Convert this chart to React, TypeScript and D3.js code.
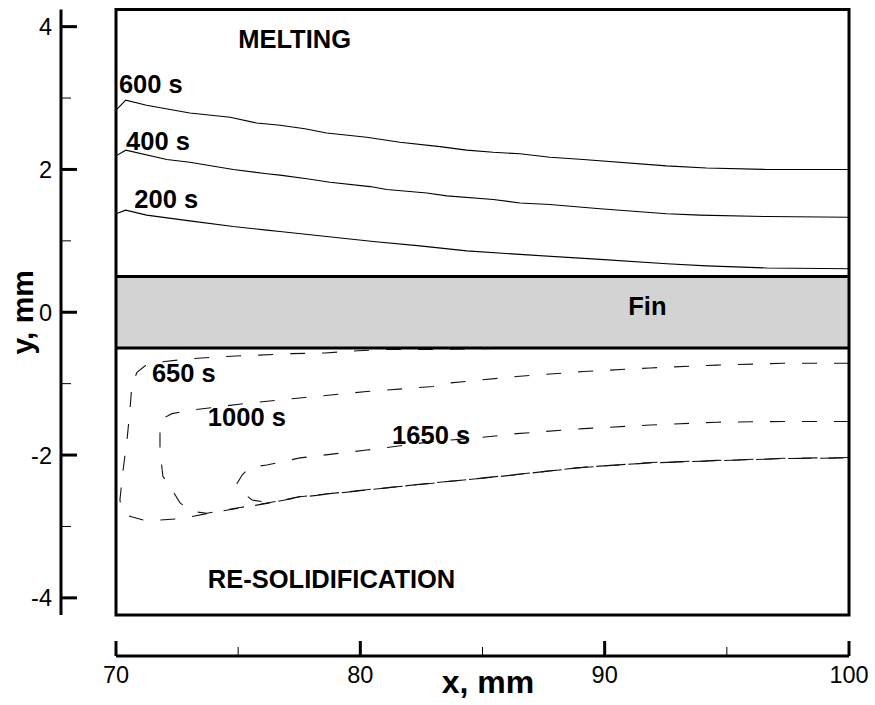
import React from 'react';
import * as d3 from 'd3';

// Axis ticks (mm)
const xTicks = [70, 80, 90, 100];
const xMinorTicks = [75, 85, 95];
const yTicks = [-4, -2, 0, 2, 4];
const yMinorTicks = [-3, -1, 1, 3];

// Fin half-thickness bounds (mm)
const finBounds = [-0.5, 0.5];

// Melting front positions above the fin, [x mm, y mm]
const melt200: [number, number][] = [
  [70, 1.38], [70.4, 1.43], [71.25, 1.36], [73.02, 1.28], [74.8, 1.2], [76.17, 1.15],
  [76.71, 1.13], [78.62, 1.06], [80.53, 0.99], [82.44, 0.93], [84.35, 0.86], [86.53, 0.81],
  [89.81, 0.74], [92.54, 0.68], [94.17, 0.65], [96.63, 0.62], [100, 0.61],
];
const melt400: [number, number][] = [
  [70, 2.19], [70.4, 2.27], [72.08, 2.14], [73.02, 2.1], [74.8, 2.0], [76.17, 1.94],
  [76.71, 1.92], [77.81, 1.87], [78.76, 1.82], [80.4, 1.76], [81.08, 1.72], [82.72, 1.67],
  [83.54, 1.63], [85.44, 1.58], [86.53, 1.53], [87.76, 1.51], [89.81, 1.45], [92.54, 1.38],
  [93.9, 1.36], [96.63, 1.34], [100, 1.33],
];
const melt600: [number, number][] = [
  [70, 2.83], [70.4, 2.97], [71.25, 2.9], [73.02, 2.79], [74.67, 2.73], [75.76, 2.65],
  [76.71, 2.62], [77.73, 2.57], [78.62, 2.51], [80.26, 2.45], [81.62, 2.38], [83.26, 2.32],
  [84.35, 2.27], [85.44, 2.24], [86.53, 2.22], [87.76, 2.17], [89.12, 2.14], [92.53, 2.05],
  [94.17, 2.02], [96.63, 2.0], [100, 2.0],
];

// Re-solidification fronts below the fin, [x mm, y mm]
const solid650: [number, number][] = [
  [100, -0.5], [93.9, -0.5], [87.76, -0.5], [85.72, -0.505], [82.97, -0.52], [80.93, -0.52],
  [79.9, -0.54], [78.55, -0.57], [77.2, -0.58], [75.81, -0.6], [74.46, -0.62], [73.07, -0.65],
  [71.72, -0.7], [71.19, -0.75], [70.86, -0.84], [70.65, -1.02], [70.57, -1.37], [70.45, -1.79],
  [70.29, -2.21], [70.16, -2.63], [70.25, -2.77], [70.49, -2.85], [71.11, -2.91], [71.8, -2.91],
  [72.7, -2.89], [73.72, -2.82], [75.08, -2.74], [76.3, -2.67], [77.53, -2.58], [80.26, -2.49],
  [82.97, -2.39], [85.72, -2.3], [89.11, -2.17], [91.86, -2.11], [94.59, -2.08], [97.31, -2.05],
  [100, -2.04],
];
const solid1000: [number, number][] = [
  [100, -0.715], [97.31, -0.715], [94.59, -0.74], [91.86, -0.78], [89.13, -0.83], [86.4, -0.9],
  [83.67, -0.99], [82.98, -1.04], [80.26, -1.11], [77.53, -1.2], [75.48, -1.27], [73.1, -1.37],
  [72.29, -1.42], [71.96, -1.48], [71.8, -1.65], [71.8, -1.93], [71.92, -2.3], [72.21, -2.44],
  [72.62, -2.67], [73.11, -2.79], [73.72, -2.815], [75.08, -2.735], [76.3, -2.665], [77.53, -2.585],
  [80.26, -2.485], [82.97, -2.395], [85.72, -2.295], [89.11, -2.175], [91.86, -2.105],
  [94.59, -2.075], [97.31, -2.045], [100, -2.035],
];
const solid1650: [number, number][] = [
  [100, -1.53], [97.31, -1.53], [94.59, -1.54], [91.86, -1.58], [89.13, -1.63], [86.4, -1.7],
  [84.76, -1.76], [82.99, -1.81], [80.26, -1.93], [77.53, -2.04], [76.17, -2.14], [75.48, -2.17],
  [75.16, -2.28], [74.95, -2.4], [75.2, -2.53], [75.57, -2.63], [76.3, -2.67], [77.53, -2.59],
  [80.26, -2.49], [82.97, -2.39], [85.72, -2.3], [89.11, -2.17], [91.86, -2.11], [94.59, -2.08],
  [97.31, -2.05], [100, -2.04],
];

// Curve labels: text and anchor position in mm
const curveLabels: { text: string; x: number; y: number }[] = [
  { text: '600 s', x: 70.12, y: 3.07 },
  { text: '400 s', x: 70.41, y: 2.27 },
  { text: '200 s', x: 70.75, y: 1.46 },
  { text: '650 s', x: 71.47, y: -0.98 },
  { text: '1000 s', x: 73.76, y: -1.6 },
  { text: '1650 s', x: 81.3, y: -1.85 },
];

const regionLabels: { text: string; x: number; y: number; anchor: string }[] = [
  { text: 'MELTING', x: 75.0, y: 3.7, anchor: 'start' },
  { text: 'Fin', x: 91.75, y: -0.04, anchor: 'middle' },
  { text: 'RE-SOLIDIFICATION', x: 73.76, y: -3.86, anchor: 'start' },
];

const W = 875;
const H = 705;
const FONT = '"Liberation Sans", Arial, Helvetica, sans-serif';

export default function App() {
  const x = d3.scaleLinear().domain([70, 100]).range([116, 849]);
  const y = d3.scaleLinear().domain([-4.24, 4.24]).range([615, 9.5]);

  const line = d3
    .line<[number, number]>()
    .x((d) => x(d[0]))
    .y((d) => y(d[1]))
    .curve(d3.curveLinear);

  const [x0, x1] = x.range();
  const [yBottom, yTop] = y.range();
  const yAxisX = 61;
  const xAxisY = 656;

  const meltCurves = [melt200, melt400, melt600];
  const solidCurves = [solid650, solid1000, solid1650];

  return (
    <svg
      width={W}
      height={H}
      viewBox={`0 0 ${W} ${H}`}
      style={{ position: 'absolute', left: 0, top: 0, background: '#fff' }}
    >
      <rect x={0} y={0} width={W} height={H} fill="#fff" />

      {/* Fin band */}
      <rect
        x={x0}
        y={y(finBounds[1])}
        width={x1 - x0}
        height={y(finBounds[0]) - y(finBounds[1])}
        fill="#d3d3d3"
      />

      {/* Melting fronts */}
      {meltCurves.map((c, i) => (
        <path key={`m${i}`} d={line(c) || ''} fill="none" stroke="#000" strokeWidth={1.1} />
      ))}

      {/* Re-solidification fronts */}
      {solidCurves.map((c, i) => (
        <path
          key={`s${i}`}
          d={line(c) || ''}
          fill="none"
          stroke="#111"
          strokeWidth={1.1}
          strokeDasharray="15,17"
        />
      ))}

      {/* Fin edges */}
      {finBounds.map((v) => (
        <line key={`f${v}`} x1={x0} x2={x1} y1={y(v)} y2={y(v)} stroke="#000" strokeWidth={3} />
      ))}

      {/* Plot frame */}
      <rect
        x={x0}
        y={yTop}
        width={x1 - x0}
        height={yBottom - yTop}
        fill="none"
        stroke="#000"
        strokeWidth={3}
      />

      {/* Y axis */}
      <line x1={yAxisX} x2={yAxisX} y1={yTop} y2={yBottom} stroke="#000" strokeWidth={3} />
      {yTicks.map((t) => (
        <g key={`yt${t}`}>
          <line x1={yAxisX} x2={yAxisX + 16} y1={y(t)} y2={y(t)} stroke="#000" strokeWidth={3} />
          <text
            x={52}
            y={y(t)}
            dy="0.36em"
            textAnchor="end"
            fontFamily={FONT}
            fontSize={23.5}
            fill="#000"
          >
            {t}
          </text>
        </g>
      ))}
      {yMinorTicks.map((t) => (
        <line key={`ym${t}`} x1={yAxisX} x2={yAxisX + 10} y1={y(t)} y2={y(t)} stroke="#000" strokeWidth={1} />
      ))}
      <text
        transform={`translate(33, ${y(0)}) rotate(-90)`}
        textAnchor="middle"
        fontFamily={FONT}
        fontWeight="bold"
        fontSize={30}
        fill="#000"
      >
        y, mm
      </text>

      {/* X axis */}
      <line x1={x0} x2={x1} y1={xAxisY} y2={xAxisY} stroke="#000" strokeWidth={3} />
      {xTicks.map((t) => (
        <g key={`xt${t}`}>
          <line x1={x(t)} x2={x(t)} y1={xAxisY} y2={xAxisY - 15} stroke="#000" strokeWidth={3} />
          <text
            x={x(t)}
            y={683}
            textAnchor="middle"
            fontFamily={FONT}
            fontSize={23.5}
            fill="#000"
          >
            {t}
          </text>
        </g>
      ))}
      {xMinorTicks.map((t) => (
        <line key={`xm${t}`} x1={x(t)} x2={x(t)} y1={xAxisY} y2={xAxisY - 9} stroke="#000" strokeWidth={1} />
      ))}
      <text
        x={488}
        y={693}
        textAnchor="middle"
        fontFamily={FONT}
        fontWeight="bold"
        fontSize={32}
        fill="#000"
      >
        x, mm
      </text>

      {/* Curve labels */}
      {curveLabels.map((l) => (
        <text
          key={l.text}
          x={x(l.x)}
          y={y(l.y)}
          fontFamily={FONT}
          fontWeight="bold"
          fontSize={25.5}
          fill="#000"
        >
          {l.text}
        </text>
      ))}

      {/* Region labels */}
      {regionLabels.map((l) => (
        <text
          key={l.text}
          x={x(l.x)}
          y={y(l.y)}
          textAnchor={l.anchor}
          fontFamily={FONT}
          fontWeight="bold"
          fontSize={25.5}
          fill="#000"
        >
          {l.text}
        </text>
      ))}
    </svg>
  );
}
